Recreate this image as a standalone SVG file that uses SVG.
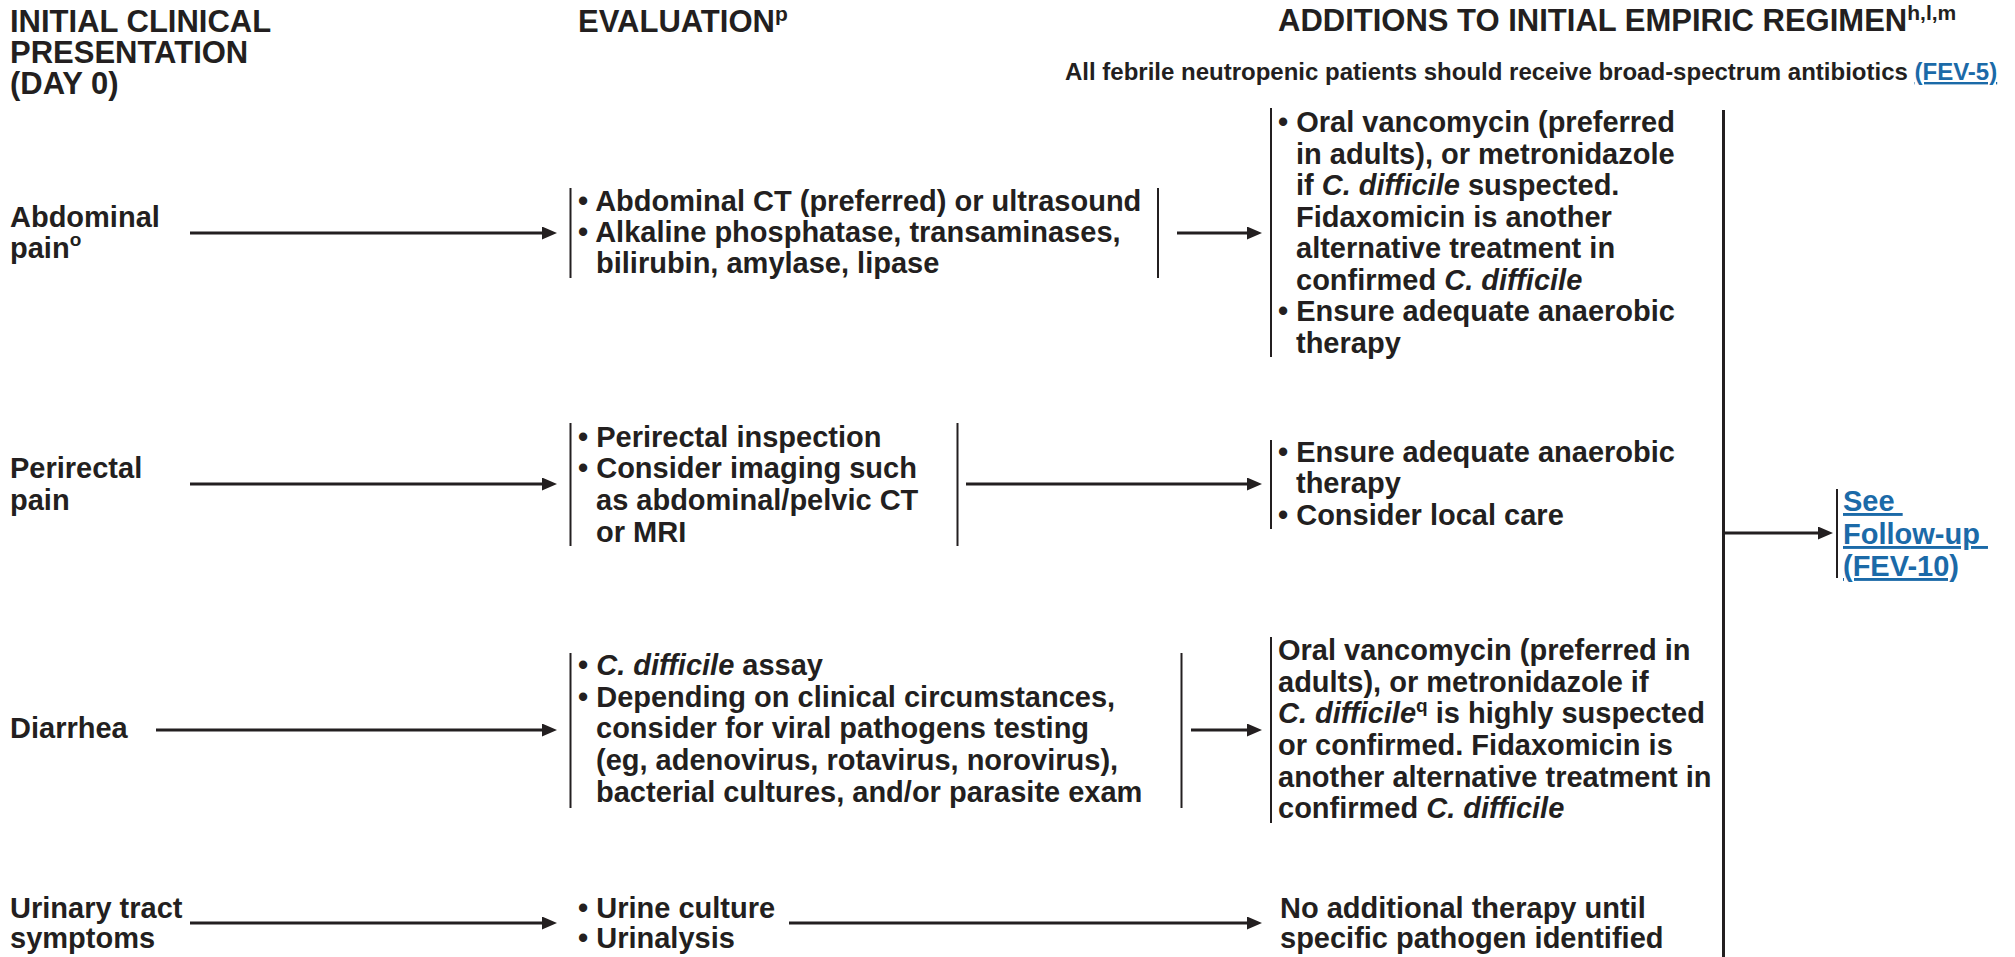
<svg xmlns="http://www.w3.org/2000/svg" width="2015" height="957" viewBox="0 0 2015 957">
<style>
text{font-family:"Liberation Sans",Arial,Helvetica,sans-serif;font-weight:bold;fill:#231f20}
.h{font-size:31px}
.t{font-size:29px}
.s{font-size:24px}
.sup{font-size:19px}
.hs{font-size:21px}
.i{font-style:italic}
.lnk{fill:#1b6aa8;text-decoration:underline}
.br{stroke:#231f20;stroke-width:2;fill:none}
.ar{stroke:#231f20;stroke-width:2.8;fill:none;marker-end:url(#ah)}
.vl{stroke:#231f20;stroke-width:3;fill:none}
</style>
<defs>
<marker id="ah" viewBox="0 0 15 13" refX="2" refY="6.5" markerWidth="15" markerHeight="13" markerUnits="userSpaceOnUse" orient="auto">
<path d="M0,0 L15,6.5 L0,13 z" fill="#231f20"/>
</marker>
</defs>
<rect width="2015" height="957" fill="#ffffff"/>

<g id="headers">
<text class="h" x="10" y="32">INITIAL CLINICAL</text>
<text class="h" x="10" y="63">PRESENTATION</text>
<text class="h" x="10" y="94">(DAY 0)</text>
<text class="h" x="578" y="32">EVALUATION<tspan class="hs" dy="-11">p</tspan></text>
<text class="h" x="1278" y="31">ADDITIONS TO INITIAL EMPIRIC REGIMEN<tspan class="hs" dy="-11">h,l,m</tspan></text>
<text class="s" x="1065" y="80">All febrile neutropenic patients should receive broad-spectrum antibiotics <tspan class="lnk">(FEV-5)</tspan></text>
</g>

<g id="abdominal-pain">
<text class="t" x="10" y="227">Abdominal</text>
<text class="t" x="10" y="258">pain<tspan class="sup" dy="-12">o</tspan></text>
</g>
<g id="abdominal-eval">
<line class="br" x1="570.5" y1="188" x2="570.5" y2="278"/>
<line class="br" x1="1158" y1="188" x2="1158" y2="278"/>
<text class="t" x="578" y="211">• Abdominal CT (preferred) or ultrasound</text>
<text class="t" x="578" y="242">• Alkaline phosphatase, transaminases,</text>
<text class="t" x="596" y="273">bilirubin, amylase, lipase</text>
</g>
<g id="abdominal-add">
<line class="br" x1="1271" y1="108" x2="1271" y2="357"/>
<text class="t" x="1278" y="132">• Oral vancomycin (preferred</text>
<text class="t" x="1296" y="163.5">in adults), or metronidazole</text>
<text class="t" x="1296" y="195">if <tspan class="i">C. difficile</tspan> suspected.</text>
<text class="t" x="1296" y="226.5">Fidaxomicin is another</text>
<text class="t" x="1296" y="258">alternative treatment in</text>
<text class="t" x="1296" y="289.5">confirmed <tspan class="i">C. difficile</tspan></text>
<text class="t" x="1278" y="321">• Ensure adequate anaerobic</text>
<text class="t" x="1296" y="352.5">therapy</text>
</g>

<g id="perirectal-pain">
<text class="t" x="10" y="478">Perirectal</text>
<text class="t" x="10" y="510">pain</text>
</g>
<g id="perirectal-eval">
<line class="br" x1="570.5" y1="423" x2="570.5" y2="546"/>
<line class="br" x1="957.5" y1="423" x2="957.5" y2="546"/>
<text class="t" x="578" y="447">• Perirectal inspection</text>
<text class="t" x="578" y="478">• Consider imaging such</text>
<text class="t" x="596" y="510">as abdominal/pelvic CT</text>
<text class="t" x="596" y="541.5">or MRI</text>
</g>
<g id="perirectal-add">
<line class="br" x1="1271" y1="440" x2="1271" y2="529"/>
<text class="t" x="1278" y="462">• Ensure adequate anaerobic</text>
<text class="t" x="1296" y="493">therapy</text>
<text class="t" x="1278" y="525">• Consider local care</text>
</g>

<g id="diarrhea">
<text class="t" x="10" y="738">Diarrhea</text>
</g>
<g id="diarrhea-eval">
<line class="br" x1="570.5" y1="653" x2="570.5" y2="808"/>
<line class="br" x1="1181.5" y1="653" x2="1181.5" y2="808"/>
<text class="t" x="578" y="675">• <tspan class="i">C. difficile</tspan> assay</text>
<text class="t" x="578" y="707">• Depending on clinical circumstances,</text>
<text class="t" x="596" y="738">consider for viral pathogens testing</text>
<text class="t" x="596" y="770">(eg, adenovirus, rotavirus, norovirus),</text>
<text class="t" x="596" y="802">bacterial cultures, and/or parasite exam</text>
</g>
<g id="diarrhea-add">
<line class="br" x1="1271" y1="637" x2="1271" y2="823"/>
<text class="t" x="1278" y="660">Oral vancomycin (preferred in</text>
<text class="t" x="1278" y="692">adults), or metronidazole if</text>
<text class="t" x="1278" y="723"><tspan class="i">C. difficile</tspan><tspan class="sup" dy="-11">q</tspan><tspan dy="11"> is highly suspected</tspan></text>
<text class="t" x="1278" y="755">or confirmed. Fidaxomicin is</text>
<text class="t" x="1278" y="787">another alternative treatment in</text>
<text class="t" x="1278" y="818">confirmed <tspan class="i">C. difficile</tspan></text>
</g>

<g id="urinary">
<text class="t" x="10" y="918">Urinary tract</text>
<text class="t" x="10" y="948">symptoms</text>
</g>
<g id="urinary-eval">
<text class="t" x="578" y="918">• Urine culture</text>
<text class="t" x="578" y="948">• Urinalysis</text>
</g>
<g id="urinary-add">
<text class="t" x="1280" y="918">No additional therapy until</text>
<text class="t" x="1280" y="948">specific pathogen identified</text>
</g>

<g id="follow-up">
<line class="br" x1="1837" y1="489" x2="1837" y2="578"/>
<text class="t lnk" x="1843" y="511" xml:space="preserve">See </text>
<text class="t lnk" x="1843" y="544" xml:space="preserve">Follow-up </text>
<text class="t lnk" x="1843" y="576">(FEV-10)</text>
</g>

<g id="connectors">
<line class="ar" x1="190" y1="233" x2="544" y2="233"/>
<line class="ar" x1="1177" y1="233" x2="1249" y2="233"/>
<line class="ar" x1="190" y1="484" x2="544" y2="484"/>
<line class="ar" x1="966" y1="484" x2="1249" y2="484"/>
<line class="ar" x1="156" y1="730" x2="544" y2="730"/>
<line class="ar" x1="1191" y1="730" x2="1249" y2="730"/>
<line class="ar" x1="190" y1="923" x2="544" y2="923"/>
<line class="ar" x1="789" y1="923" x2="1249" y2="923"/>
<line class="vl" x1="1723.5" y1="110" x2="1723.5" y2="957"/>
<line class="ar" x1="1725" y1="533" x2="1820" y2="533"/>
</g>
</svg>
